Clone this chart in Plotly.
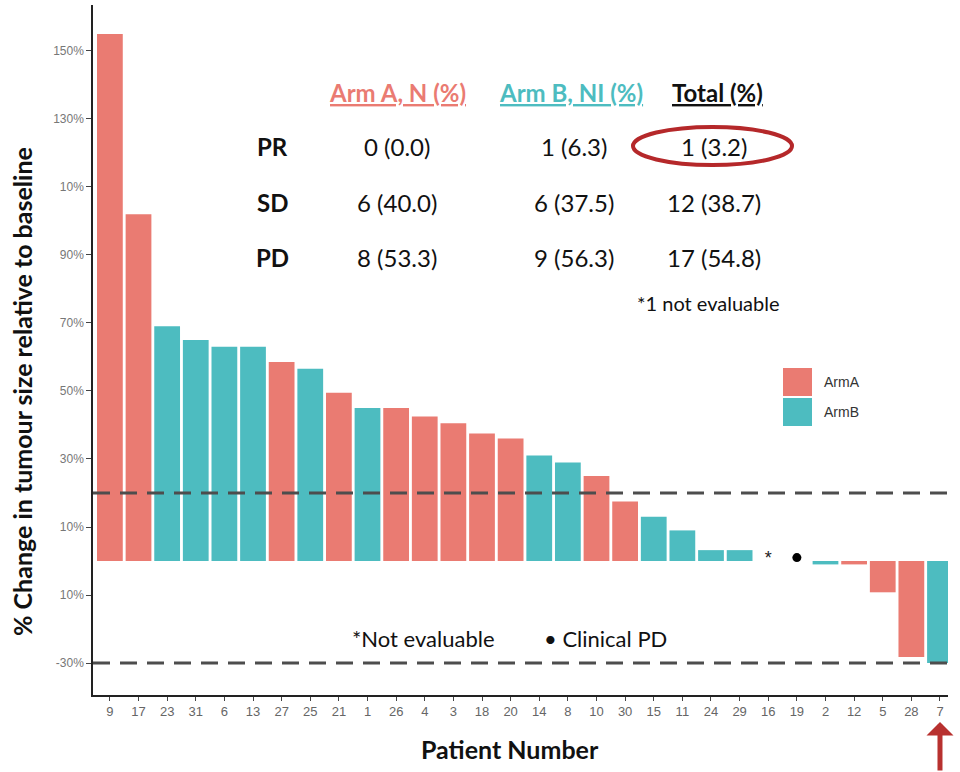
import plotly.graph_objects as go

# ---------------- data ----------------
patients = ["9", "17", "23", "31", "6", "13", "27", "25", "21", "1", "26", "4", "3", "18", "20",
            "14", "8", "10", "30", "15", "11", "24", "29", "16", "19", "2", "12", "5", "28", "7"]
pct_change = [155, 102, 69, 65, 63, 63, 58.5, 56.5, 49.5, 45, 45, 42.5, 40.5, 37.5, 36,
              31, 29, 25, 17.5, 13, 9, 3.2, 3.2, None, None, -1, -1, -9.2, -28.2, -30]
arm = ["A", "A", "B", "B", "B", "B", "A", "B", "A", "B", "A", "A", "A", "A", "A",
       "B", "B", "A", "A", "B", "B", "B", "B", None, None, "B", "A", "A", "A", "B"]
not_evaluable = ["16"]
clinical_pd = ["19"]
highlight_patient = "7"

ytick_vals = [150, 130, 110, 90, 70, 50, 30, 10, -10, -30]
ytick_text = ["150%", "130%", "10%", "90%", "70%", "50%", "30%", "10%", "10%", "-30%"]
threshold_lines = [20, -30]

table_rows = ["PR", "SD", "PD"]
arm_a_vals = ["0 (0.0)", "6 (40.0)", "8 (53.3)"]
arm_b_vals = ["1 (6.3)", "6 (37.5)", "9 (56.3)"]
total_vals = ["1 (3.2)", "12 (38.7)", "17 (54.8)"]

COL_A = "#EA7B72"
COL_B = "#4DBCC0"

fig = go.Figure()
for key, name, col in [("A", "ArmA", COL_A), ("B", "ArmB", COL_B)]:
    xs = [p for p, a in zip(patients, arm) if a == key]
    ys = [v for v, a in zip(pct_change, arm) if a == key]
    fig.add_trace(go.Bar(x=xs, y=ys, name=name, marker_color=col,
                         marker_line_width=0, width=0.9, showlegend=False))

fig.add_trace(go.Scatter(x=not_evaluable, y=[0.3] * len(not_evaluable), mode="text", text=["*"],
                         textfont=dict(size=18, color="#222", family="Liberation Sans"),
                         showlegend=False))
fig.add_trace(go.Scatter(x=clinical_pd, y=[1] * len(clinical_pd), mode="markers",
                         marker=dict(size=9, color="black"), showlegend=False))

L, R, T, B = 93, 12, 5, 77
W, H = 960, 772
PW, PH = W - L - R, H - T - B


def px(x):
    return (x - L) / PW


def py(y):
    return (H - B - y) / PH


def note(x, y, text, size, color="#111", **kw):
    fig.add_annotation(xref="paper", yref="paper", x=px(x), y=py(y), showarrow=False,
                       xanchor=kw.pop("xanchor", "center"), yanchor="middle", text=text,
                       font=dict(size=size, color=color, family=kw.pop("family", "Lato")), **kw)


for yv in threshold_lines:
    fig.add_shape(type="line", xref="paper", yref="y", x0=0, x1=1, y0=yv, y1=yv,
                  line=dict(color="#4D4D4D", width=3, dash="17px,10px"))

# ellipse around total PR
fig.add_shape(type="circle", xref="paper", yref="paper",
              x0=px(633), x1=px(792), y0=py(165), y1=py(127),
              line=dict(color="#B5282A", width=4))

# legend (drawn)
fig.add_shape(type="rect", xref="paper", yref="paper", x0=px(783), x1=px(812), y0=py(396), y1=py(368),
              fillcolor=COL_A, line=dict(width=0))
fig.add_shape(type="rect", xref="paper", yref="paper", x0=px(783), x1=px(812), y0=py(426), y1=py(398),
              fillcolor=COL_B, line=dict(width=0))
note(822, 382, "ArmA", 14, "#333", xanchor="left", family="Liberation Sans")
note(822, 412, "ArmB", 14, "#333", xanchor="left", family="Liberation Sans")

# table headers
for txt, cx, col in [("Arm A, N (%)", 397, COL_A), ("Arm B, NI (%)", 571, COL_B), ("Total (%)", 717, "#111")]:
    note(cx, 93, "<b><u>" + txt + "</u></b>", 24, col)

row_y = [147, 202, 257]
for i, lab in enumerate(table_rows):
    note(272, row_y[i], "<b>" + lab + "</b>", 24)
    for vals, cx in [(arm_a_vals, 397), (arm_b_vals, 574), (total_vals, 714)]:
        note(cx, row_y[i], vals[i], 24)

note(708, 303, "*1 not evaluable", 20)
note(423, 638, "*Not evaluable", 22)
note(605, 638, "• Clinical PD", 22)

# axis titles
note(22, 392, "<b>% Change in tumour size relative to baseline</b>", 25, textangle=-90)
note(510, 749, "<b>Patient Number</b>", 25)

# red arrow under the highlighted patient
fig.add_annotation(xref="x", yref="paper", x=patients.index(highlight_patient), y=py(722),
                   ax=0, ay=54, showarrow=True, arrowhead=1, arrowsize=0.9, arrowwidth=5,
                   arrowcolor="#B8312F", text="")

fig.update_layout(
    width=W, height=H, margin=dict(l=L, r=R, t=T, b=B),
    plot_bgcolor="white", paper_bgcolor="white", barmode="overlay",
    xaxis=dict(type="category", categoryorder="array", categoryarray=patients,
               range=[-0.59, 29.28], showline=True, linecolor="#222", linewidth=1.5,
               ticks="outside", ticklen=4, tickcolor="#444",
               tickfont=dict(size=13, color="#666", family="Liberation Sans"),
               showgrid=False, zeroline=False),
    yaxis=dict(range=[-39.4, 163.5], tickvals=ytick_vals, ticktext=ytick_text,
               showline=True, linecolor="#222", linewidth=1.5,
               ticks="outside", ticklen=5, tickcolor="#444",
               tickfont=dict(size=12, color="#777", family="Liberation Sans"),
               showgrid=False, zeroline=False),
)

fig.write_html("out.html")
